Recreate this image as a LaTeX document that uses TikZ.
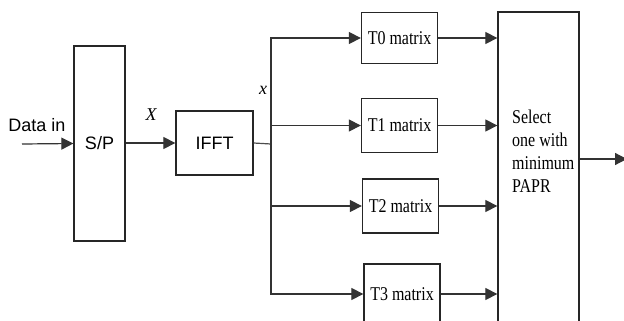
\documentclass[tikz,border=0pt]{standalone}
\usepackage{fontspec}
\setmainfont{Liberation Serif}
\newfontfamily\arialfont{Liberation Sans}
\newfontfamily\narrowserif[FakeStretch=0.82]{Liberation Serif}
\usetikzlibrary{positioning,arrows.meta,calc}

\begin{document}
\begin{tikzpicture}[
  x=1pt, y=-1pt,
  block/.style={rectangle, draw=black!85, line width=1.3pt, inner sep=0pt},
  sansblock/.style={block, font=\arialfont\fontsize{18}{21}\selectfont},
  tblock/.style={block, minimum width=76pt, minimum height=54pt, font=\narrowserif\fontsize{19.5}{22}\selectfont},
  arrow/.style={-{Triangle[length=12pt,width=12pt]}, line width=1.2pt, draw=black!80},
  wire/.style={line width=1.2pt, draw=black!70}
]
  \useasboundingbox (0,0) rectangle (624,321);

  % Input side
  \node[sansblock, minimum width=51pt, minimum height=195pt] (sp) at (99.5,143.5) {S/P};
  \node[sansblock, minimum width=77pt, minimum height=64pt] (ifft) at (214.5,143) {IFFT};
  \coordinate (datain) at (22,144);
  \coordinate (split) at (271,144);

  % Transform matrices
  \node[tblock, minimum height=51pt] (t0) at (399.5,38) {T0 matrix};
  \node[tblock] (t1) at (399.5,125.5) {T1 matrix};
  \node[tblock] (t2) at (400.5,206) {T2 matrix};
  \node[tblock, minimum height=60pt] (t3) at (402,294) {T3 matrix};

  % Selection
  \node[block, minimum width=81pt, minimum height=320pt] (sel) at (538.5,172) {};
  \node[anchor=north west, align=left, inner sep=0pt,
        font=\narrowserif\fontsize{19.5}{23}\selectfont] (seltext) at (512,110) {Select\\one with\\minimum\\PAPR};
  \coordinate (out) at (627,159);

  \draw[arrow] (datain) -- (sp.west);
  \draw[arrow] (sp.east |- ifft) -- (ifft.west);
  \draw[wire] (ifft.east) -- (split);
  \draw[arrow] (split) |- (t0.west);
  \draw[arrow] (split) -- (split |- t1) -- (t1.west);
  \draw[arrow] (split) |- (t2.west);
  \draw[arrow] (split) |- (t3.west);
  \foreach \t in {t0,t1,t2,t3}
    \draw[arrow] (\t.east) -- (\t.east -| sel.west);
  \draw[arrow] (sel.east |- out) -- (out);

  % Labels
  \node[font=\arialfont\fontsize{18}{21}\selectfont] (dlabel) at (37,125) {Data in};
  \node[font=\itshape\fontsize{18}{21}\selectfont] (xbig) at (151,115) {X};
  \node[font=\itshape\fontsize{18}{21}\selectfont] (xsmall) at (263,90) {x};
\end{tikzpicture}
\end{document}
